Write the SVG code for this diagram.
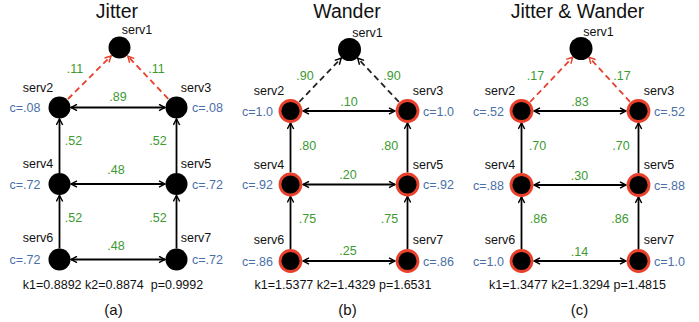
<svg xmlns="http://www.w3.org/2000/svg" width="699" height="322" viewBox="0 0 699 322">
  <style>
    text { font-family: "Liberation Sans", Arial, sans-serif; }
    .title { font-size: 19.5px; fill: #111; text-anchor: middle; }
    .name { font-size: 12.5px; fill: #111; text-anchor: middle; }
    .cval { font-size: 12.5px; fill: #4a6fa8; }
    .cl { text-anchor: end; }
    .cr { text-anchor: start; }
    .w { font-size: 12.5px; fill: #3c9a30; text-anchor: middle; }
    .stats { font-size: 12.5px; fill: #111; text-anchor: middle; white-space: pre; }
    .cap { font-size: 15px; fill: #111; text-anchor: middle; }
    .node { fill: #000; }
    .hot { fill: #000; stroke: #e8402a; stroke-width: 2.8; }
    .link { fill: none; stroke: #000; stroke-width: 1.8; marker-start: url(#ah); marker-end: url(#ah); }
    .up { fill: none; stroke: #000; stroke-width: 1.8; marker-end: url(#ah); }
    .dash { fill: none; stroke: #222; stroke-width: 1.8; stroke-dasharray: 6 4; marker-end: url(#ah); }
    .dash.red { stroke: #e8402a; marker-end: url(#ahr); }
  </style>
  <defs>
    <marker id="ah" viewBox="0 0 10 10" refX="9" refY="5" markerWidth="8" markerHeight="8" markerUnits="userSpaceOnUse" orient="auto-start-reverse">
      <path d="M1.5,1 L9,5 L1.5,9" fill="none" stroke="#000" stroke-width="1.8"/>
    </marker>
    <marker id="ahr" viewBox="0 0 10 10" refX="9" refY="5" markerWidth="8" markerHeight="8" markerUnits="userSpaceOnUse" orient="auto-start-reverse">
      <path d="M1.5,1 L9,5 L1.5,9" fill="none" stroke="#e8402a" stroke-width="1.8"/>
    </marker>
  </defs>
  <rect width="699" height="322" fill="#fff"/>

  <!-- Panel (a): Jitter -->
  <g id="panel-a">
    <text class="title" x="117" y="17.5">Jitter</text>
    <g id="a-connectors">
      <path class="dash red" d="M68,99 L111,56"/>
      <path class="dash red" d="M168.2,98.8 L127.8,56.2"/>
      <path class="link" d="M71,107.5 H165"/>
      <path class="up" d="M59.5,173 V119"/>
      <path class="up" d="M176.5,173 V119"/>
      <path class="link" d="M71,184 H165"/>
      <path class="up" d="M59.5,248.5 V195.5"/>
      <path class="up" d="M176.5,248.5 V195.5"/>
      <path class="link" d="M71,259.5 H165"/>
      <text class="w" x="75" y="73">.11</text>
      <text class="w" x="156.5" y="73">.11</text>
      <text class="w" x="118" y="101">.89</text>
      <text class="w" x="73.5" y="145">.52</text>
      <text class="w" x="158" y="145">.52</text>
      <text class="w" x="116" y="174">.48</text>
      <text class="w" x="73.5" y="222">.52</text>
      <text class="w" x="158" y="222">.52</text>
      <text class="w" x="116" y="250">.48</text>
    </g>
    <g id="a-serv1"><circle class="node" cx="119.5" cy="47.5" r="11"/><text class="name" x="137" y="34">serv1</text></g>
    <g id="a-serv2"><circle class="node" cx="59.5" cy="107.5" r="11"/><text class="name" x="38" y="91.5">serv2</text><text class="cval cl" x="40.5" y="112">c=.08</text></g>
    <g id="a-serv3"><circle class="node" cx="176.5" cy="107.5" r="11"/><text class="name" x="196" y="91.5">serv3</text><text class="cval cr" x="192" y="112">c=.08</text></g>
    <g id="a-serv4"><circle class="node" cx="59.5" cy="184" r="11"/><text class="name" x="38" y="168">serv4</text><text class="cval cl" x="40.5" y="188.5">c=.72</text></g>
    <g id="a-serv5"><circle class="node" cx="176.5" cy="184" r="11"/><text class="name" x="196" y="168">serv5</text><text class="cval cr" x="192" y="188.5">c=.72</text></g>
    <g id="a-serv6"><circle class="node" cx="59.5" cy="259.5" r="11"/><text class="name" x="38" y="242">serv6</text><text class="cval cl" x="40.5" y="264">c=.72</text></g>
    <g id="a-serv7"><circle class="node" cx="176.5" cy="259.5" r="11"/><text class="name" x="196" y="242">serv7</text><text class="cval cr" x="192" y="264">c=.72</text></g>
    <text class="stats" x="113" y="289">k1=0.8892 k2=0.8874  p=0.9992</text>
    <text class="cap" x="113.5" y="315">(a)</text>
  </g>

  <!-- Panel (b): Wander -->
  <g id="panel-b" transform="translate(231,0)">
    <text class="title" x="116" y="17.5">Wander</text>
    <g id="b-connectors">
      <path class="dash" d="M68.2,102 L110.2,58.2"/>
      <path class="dash" d="M167.9,101.9 L126.7,58.2"/>
      <path class="link" d="M72,111 H164"/>
      <path class="up" d="M59.5,172.5 V123"/>
      <path class="up" d="M176.5,172.5 V123"/>
      <path class="link" d="M72,184.5 H164"/>
      <path class="up" d="M59.5,249 V196.5"/>
      <path class="up" d="M176.5,249 V196.5"/>
      <path class="link" d="M72,261 H164"/>
      <text class="w" x="74" y="80">.90</text>
      <text class="w" x="161" y="80">.90</text>
      <text class="w" x="118" y="106">.10</text>
      <text class="w" x="76.5" y="150">.80</text>
      <text class="w" x="158.5" y="150">.80</text>
      <text class="w" x="117" y="179">.20</text>
      <text class="w" x="76.5" y="223">.75</text>
      <text class="w" x="158.5" y="223">.75</text>
      <text class="w" x="117" y="255">.25</text>
    </g>
    <g id="b-serv1"><circle class="node" cx="118.5" cy="49.5" r="11.5"/><text class="name" x="136.5" y="36.5">serv1</text></g>
    <g id="b-serv2"><circle class="hot" cx="59.5" cy="111" r="10.5"/><text class="name" x="38" y="95">serv2</text><text class="cval cl" x="42" y="115.5">c=1.0</text></g>
    <g id="b-serv3"><circle class="hot" cx="176.5" cy="111" r="10.5"/><text class="name" x="197" y="95">serv3</text><text class="cval cr" x="192" y="115.5">c=1.0</text></g>
    <g id="b-serv4"><circle class="hot" cx="59.5" cy="184.5" r="10.5"/><text class="name" x="38" y="168.5">serv4</text><text class="cval cl" x="42" y="189">c=.92</text></g>
    <g id="b-serv5"><circle class="hot" cx="176.5" cy="184.5" r="10.5"/><text class="name" x="197" y="168.5">serv5</text><text class="cval cr" x="192" y="189">c=.92</text></g>
    <g id="b-serv6"><circle class="hot" cx="59.5" cy="261" r="10.5"/><text class="name" x="38" y="243.5">serv6</text><text class="cval cl" x="42" y="265.5">c=.86</text></g>
    <g id="b-serv7"><circle class="hot" cx="176.5" cy="261" r="10.5"/><text class="name" x="197" y="243.5">serv7</text><text class="cval cr" x="192" y="265.5">c=.86</text></g>
    <text class="stats" x="112" y="289">k1=1.5377 k2=1.4329 p=1.6531</text>
    <text class="cap" x="116.5" y="315">(b)</text>
  </g>

  <!-- Panel (c): Jitter & Wander -->
  <g id="panel-c" transform="translate(462,0)">
    <text class="title" x="115.5" y="17.5">Jitter &amp; Wander</text>
    <g id="c-connectors">
      <path class="dash red" d="M68.1,102 L110.7,57.2"/>
      <path class="dash red" d="M168,101.8 L127.1,57.3"/>
      <path class="link" d="M72,111 H164"/>
      <path class="up" d="M59.5,173 V123"/>
      <path class="up" d="M176.5,173 V123"/>
      <path class="link" d="M72,185 H164"/>
      <path class="up" d="M59.5,249 V197"/>
      <path class="up" d="M176.5,249 V197"/>
      <path class="link" d="M72,261 H164"/>
      <text class="w" x="73.5" y="80">.17</text>
      <text class="w" x="160" y="80">.17</text>
      <text class="w" x="118" y="106">.83</text>
      <text class="w" x="75.5" y="150">.70</text>
      <text class="w" x="159" y="150">.70</text>
      <text class="w" x="117.5" y="179.5">.30</text>
      <text class="w" x="76.5" y="223">.86</text>
      <text class="w" x="158" y="223">.86</text>
      <text class="w" x="117.5" y="256">.14</text>
    </g>
    <g id="c-serv1"><circle class="node" cx="119" cy="48.5" r="11.5"/><text class="name" x="136.5" y="35.5">serv1</text></g>
    <g id="c-serv2"><circle class="hot" cx="59.5" cy="111" r="10.5"/><text class="name" x="38" y="95">serv2</text><text class="cval cl" x="42" y="115.5">c=.52</text></g>
    <g id="c-serv3"><circle class="hot" cx="176.5" cy="111" r="10.5"/><text class="name" x="197" y="95">serv3</text><text class="cval cr" x="192" y="115.5">c=.52</text></g>
    <g id="c-serv4"><circle class="hot" cx="59.5" cy="185" r="10.5"/><text class="name" x="38" y="169">serv4</text><text class="cval cl" x="42" y="189.5">c=.88</text></g>
    <g id="c-serv5"><circle class="hot" cx="176.5" cy="185" r="10.5"/><text class="name" x="197" y="169">serv5</text><text class="cval cr" x="192" y="189.5">c=.88</text></g>
    <g id="c-serv6"><circle class="hot" cx="59.5" cy="261" r="10.5"/><text class="name" x="38" y="243.5">serv6</text><text class="cval cl" x="42" y="265.5">c=1.0</text></g>
    <g id="c-serv7"><circle class="hot" cx="176.5" cy="261" r="10.5"/><text class="name" x="197" y="243.5">serv7</text><text class="cval cr" x="192" y="265.5">c=1.0</text></g>
    <text class="stats" x="115.5" y="289">k1=1.3477 k2=1.3294 p=1.4815</text>
    <text class="cap" x="117.5" y="315">(c)</text>
  </g>
</svg>
